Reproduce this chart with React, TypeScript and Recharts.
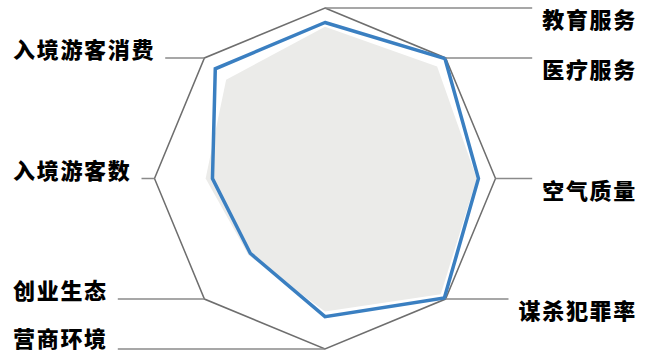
import { RadarChart, Radar, PolarGrid, PolarAngleAxis, PolarRadiusAxis } from 'recharts';

const subjects = ['教育服务', '医疗服务', '空气质量', '谋杀犯罪率', '营商环境', '创业生态', '入境游客数', '入境游客消费'];
const cityScores = [91.5, 99.5, 90, 99, 81, 62, 66, 91];
const avgScores = [89, 93, 89, 96, 78, 63.5, 70, 82];

const data = subjects.map((s, i) => ({ subject: s, city: cityScores[i], avg: avgScores[i] }));

const CX = 325;
const CY = 178.5;
const R = 170.5;
const FONT = 22;
const SPACING = 1.7;
const ADV = FONT + SPACING; // per-character advance of the labels
const RIGHT_EDGE = 637;
const LEFT_EDGE = 13;

function LabelTick(props: any) {
  const { payload, index } = props;
  const text: string = payload.value;
  const n = text.length;
  const ang = ((90 - index * 45) * Math.PI) / 180;
  const vx = CX + R * Math.cos(ang);
  const vy = CY - R * Math.sin(ang);
  const right = index < 4;
  const lineEnd = right ? RIGHT_EDGE - n * ADV - 10 : LEFT_EDGE + n * ADV + 10;
  const tx = right ? RIGHT_EDGE - n * ADV : LEFT_EDGE;
  // bottom label sits against the lower edge, lift it a touch
  const ty = right ? vy + 10 : vy - (index === 4 ? 12 : 10);
  return (
    <g>
      <line x1={vx} y1={vy} x2={lineEnd} y2={vy} stroke="#8a8a8a" strokeWidth={1.5} />
      <text
        x={tx}
        y={ty}
        textAnchor="start"
        dominantBaseline="central"
        fill="#000"
        fontSize={FONT}
        fontWeight={900}
        letterSpacing={SPACING}
        fontFamily="'Noto Sans CJK SC', sans-serif"
      >
        {text}
      </text>
    </g>
  );
}

export default function App() {
  return (
    <div style={{ position: 'absolute', left: 0, top: 0, width: 655, height: 353, background: '#fff' }}>
      <RadarChart width={655} height={353} data={data} cx={CX} cy={CY} outerRadius={R} margin={{ top: 0, right: 0, bottom: 0, left: 0 }}>
        <PolarGrid gridType="polygon" radialLines={false} polarRadius={[R]} stroke="#6e6e6e" strokeWidth={1.5} />
        <PolarAngleAxis dataKey="subject" tick={<LabelTick />} axisLine={false} tickLine={false} />
        <PolarRadiusAxis domain={[0, 100]} tick={false} axisLine={false} />
        <Radar dataKey="avg" stroke="none" fill="#ebebe9" fillOpacity={1} isAnimationActive={false} />
        <Radar dataKey="city" stroke="#3a7fc1" strokeWidth={3.5} fill="none" fillOpacity={0} isAnimationActive={false} />
      </RadarChart>
    </div>
  );
}
